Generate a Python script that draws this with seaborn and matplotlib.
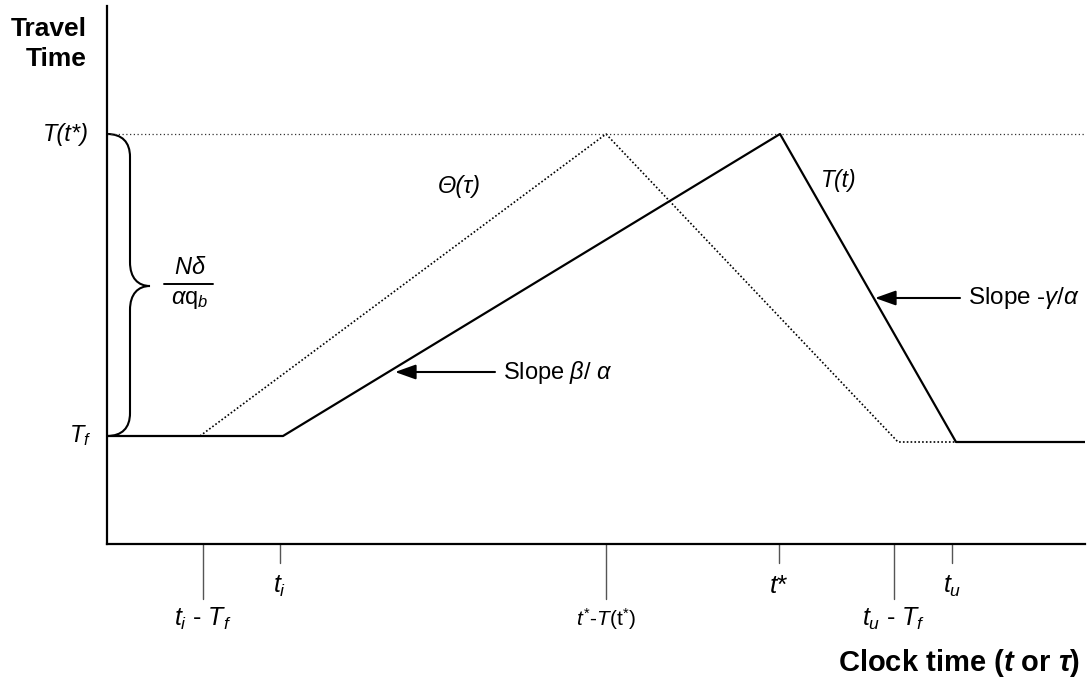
import matplotlib
matplotlib.use("Agg")
import matplotlib.pyplot as plt
import seaborn as sns
from matplotlib.path import Path
from matplotlib.patches import PathPatch

# ---- schematic values (clock time on x, travel time on y) ----
free_flow = 10.8          # T_f
peak_travel = 41.0        # T(t*)
free_flow_late = 10.2     # level after the queue clears

# actual travel time T(t)
t_clock = [0.0, 17.6, 67.3, 84.9, 97.8]
t_travel = [free_flow, free_flow, peak_travel, free_flow_late, free_flow_late]

# travel time by departure time, Theta(tau)
tau_clock = [9.3, 49.9, 79.1, 84.9]
tau_travel = [free_flow, peak_travel, free_flow_late, free_flow_late]

# marked instants on the clock-time axis
tick_pos = [9.6, 17.3, 49.9, 67.2, 78.7, 84.5]
tick_long = [True, False, True, False, True, False]
tick_labels = [r'$t_i$ - $T_f$', r'$t_i$', r'$t^{*}$-$T$(t$^{*}$)',
               r'$t$*', r'$t_u$ - $T_f$', r'$t_u$']
tick_sizes = [18, 18, 15, 19, 18, 18]

sns.set_style("white")
plt.rcParams['font.family'] = ['Liberation Sans', 'DejaVu Sans']
plt.rcParams['text.color'] = 'black'
plt.rcParams['mathtext.fontset'] = 'custom'
plt.rcParams['mathtext.rm'] = 'Liberation Sans'
plt.rcParams['mathtext.it'] = 'Liberation Sans:italic'
plt.rcParams['mathtext.bf'] = 'Liberation Sans:bold'
plt.rcParams['mathtext.bfit'] = 'Liberation Sans:bold:italic'

fig = plt.figure(figsize=(10.89, 6.83), dpi=100)
ax = fig.add_axes([107 / 1089, 139 / 683, 978 / 1089, 538 / 683])
ax.set_xlim(0, 97.8)
ax.set_ylim(0, 53.8)

for side in ("top", "right"):
    ax.spines[side].set_visible(False)
for side in ("left", "bottom"):
    ax.spines[side].set_linewidth(1.6)
    ax.spines[side].set_color("black")
ax.set_xticks([])
ax.set_yticks([])

# reference level at T(t*)
ax.axhline(peak_travel, color="#333333", lw=0.9, ls=(0, (1, 2)))

sns.lineplot(x=tau_clock, y=tau_travel, ax=ax, color="black", lw=1.2,
             ls=(0, (1, 1.3)), sort=False, estimator=None)
sns.lineplot(x=t_clock, y=t_travel, ax=ax, color="black", lw=1.6,
             sort=False, estimator=None)

# clock-time markers below the axis
for x, lng, lab, fs in zip(tick_pos, tick_long, tick_labels, tick_sizes):
    depth = 5.5 if lng else 1.9
    ax.plot([x, x], [0, -depth], color="#555555", lw=1.0, clip_on=False)
    ax.text(x, -depth - (2.0 if lng else 2.3), lab, ha="center", va="center",
            fontsize=fs, clip_on=False)

# y-axis labels
ax.text(-1.8, peak_travel, "T(t*)", ha="right", va="center", fontsize=17,
        fontstyle="italic")
ax.text(-1.6, free_flow, r"$T_f$", ha="right", va="center", fontsize=17)
ax.text(-2.0, 50.0, "Travel\nTime", ha="right", va="center", fontsize=19,
        fontweight="bold", linespacing=1.35, multialignment="right")
ax.text(73.1, -11.9, r"Clock time ($\mathbfit{t}$ or $\mathbfit{\tau}$)",
        ha="left", va="center", fontsize=21, fontweight="bold", clip_on=False)

# curly brace spanning T_f .. T(t*)
def px(xp, yp):
    return ((xp - 107) / 10.0, (544 - yp) / 10.0)

verts = [px(107, 134), px(122, 134), px(130, 142), px(130, 157),
         px(130, 262),
         px(130, 278), px(138, 286), px(150, 286),
         px(138, 286), px(130, 294), px(130, 310),
         px(130, 413),
         px(130, 428), px(122, 436), px(107, 436)]
codes = [Path.MOVETO, Path.CURVE4, Path.CURVE4, Path.CURVE4,
         Path.LINETO,
         Path.CURVE4, Path.CURVE4, Path.CURVE4,
         Path.CURVE4, Path.CURVE4, Path.CURVE4,
         Path.LINETO,
         Path.CURVE4, Path.CURVE4, Path.CURVE4]
ax.add_patch(PathPatch(Path(verts, codes), fill=False, lw=1.5,
                       edgecolor="black", clip_on=False))

# N delta / (alpha q_b)
frac_x = 8.3
ax.text(frac_x, 27.6, r"$N\delta$", ha="center", va="center", fontsize=17)
ax.plot([5.7, 10.6], [26.0, 26.0], color="black", lw=1.4)
ax.text(frac_x, 24.4, r"$\alpha$q$_b$", ha="center", va="center", fontsize=17)

# curve names
ax.text(33.1, 35.8, "Θ(τ)", ha="left", va="center", fontsize=17,
        fontstyle="italic")
ax.text(71.4, 36.4, "T(t)", ha="left", va="center", fontsize=16.5,
        fontstyle="italic")

# slope call-outs
arrow = dict(arrowstyle="-|>,head_length=0.7,head_width=0.25", color="black",
             lw=1.5, mutation_scale=18, shrinkA=0, shrinkB=0)
ax.annotate("", xy=(28.8, 17.2), xytext=(38.8, 17.2), arrowprops=arrow)
ax.text(39.6, 17.2, r"Slope $\beta$/ $\alpha$", ha="left", va="center",
        fontsize=17)
ax.annotate("", xy=(76.8, 24.6), xytext=(85.3, 24.6), arrowprops=arrow)
ax.text(86.1, 24.6, r"Slope -$\gamma$/$\alpha$", ha="left", va="center",
        fontsize=17.5)

fig.savefig("out.png", dpi=100, facecolor="white")
